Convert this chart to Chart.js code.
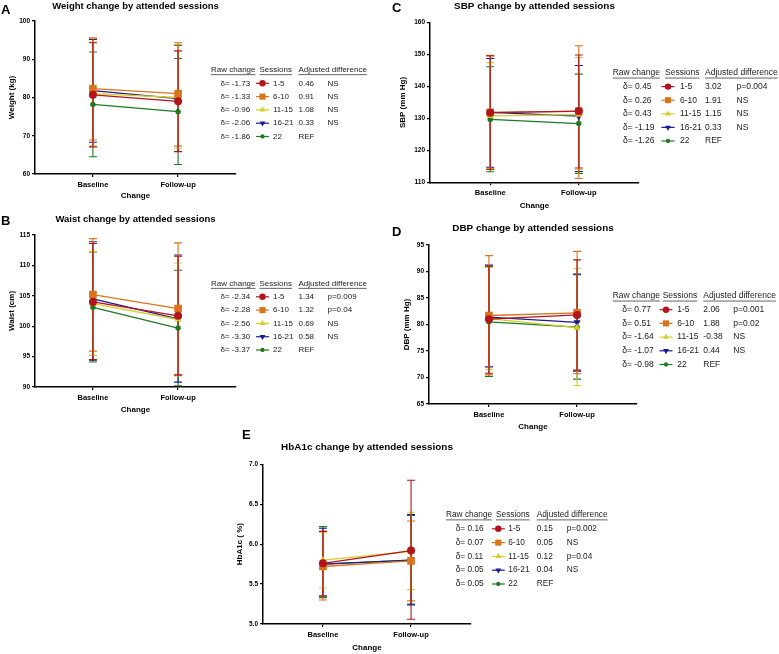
<!DOCTYPE html>
<html>
<head>
<meta charset="utf-8">
<script src="https://cdn.jsdelivr.net/npm/chart.js@4.4.1/dist/chart.umd.min.js"></script>
<style>
  body { margin: 0; background: #fff; width: 779px; height: 654px; position: relative; overflow: hidden; }
  canvas { position: absolute; }
</style>
</head>
<body>
<canvas id="panelA" width="390" height="208" style="left:0px;top:0px"></canvas>
<canvas id="panelB" width="390" height="208" style="left:0px;top:212px"></canvas>
<canvas id="panelC" width="387" height="214" style="left:392px;top:0px"></canvas>
<canvas id="panelD" width="387" height="214" style="left:392px;top:220px"></canvas>
<canvas id="panelE" width="390" height="229" style="left:228px;top:425px"></canvas>
<script>
// Shared categories
const sessions = ['1-5', '6-10', '11-15', '16-21', '22'];
const timepoints = ['Baseline', 'Follow-up'];

// A - weight (kg)
const weightBase = [80.7, 82.3, 81.0, 81.8, 78.2];
const weightFollow = [79.0, 81.0, 80.0, 79.7, 76.3];
const weightBaseLo = [67.1, 68.9, 67.3, 68.3, 64.5];
const weightBaseHi = [94.3, 95.6, 94.5, 95.2, 91.9];
const weightFollowLo = [65.8, 67.3, 66.6, 65.9, 62.5];
const weightFollowHi = [92.2, 94.3, 93.9, 93.7, 90.2];
const weightRaw = ['-1.73', '-1.33', '-0.96', '-2.06', '-1.86'];
const weightAdj = ['0.46', '0.91', '1.08', '0.33', 'REF'];
const weightP = ['NS', 'NS', 'NS', 'NS', ''];

// B - waist (cm)
const waistBase = [104.0, 105.2, 103.7, 104.5, 103.1];
const waistFollow = [101.7, 102.9, 101.1, 101.2, 99.7];
const waistBaseLo = [94.5, 95.9, 95.2, 94.4, 94.1];
const waistBaseHi = [113.6, 114.4, 112.3, 113.9, 112.2];
const waistFollowLo = [92.0, 91.9, 91.8, 90.8, 90.2];
const waistFollowHi = [111.5, 113.7, 110.4, 111.7, 109.2];
const waistRaw = ['-2.34', '-2.28', '-2.56', '-3.30', '-3.37'];
const waistAdj = ['1.34', '1.32', '0.69', '0.58', 'REF'];
const waistP = ['p=0.009', 'p=0.04', 'NS', 'NS', ''];

// C - SBP (mm Hg)
const sbpBase = [131.8, 131.9, 130.8, 131.9, 129.7];
const sbpFollow = [132.3, 132.2, 131.2, 130.7, 128.4];
const sbpBaseLo = [114.1, 114.0, 114.3, 114.7, 113.3];
const sbpBaseHi = [149.6, 149.8, 147.5, 148.8, 146.2];
const sbpFollowLo = [114.5, 111.2, 114.0, 113.4, 112.8];
const sbpFollowHi = [149.9, 152.8, 149.1, 146.6, 143.9];
const sbpRaw = ['0.45', '0.26', '0.43', '-1.19', '-1.26'];
const sbpAdj = ['3.02', '1.91', '1.15', '0.33', 'REF'];
const sbpP = ['p=0.004', 'NS', 'NS', 'NS', ''];

// D - DBP (mm Hg)
const dbpBase = [81.0, 81.7, 81.1, 81.4, 80.5];
const dbpFollow = [81.8, 82.2, 79.4, 80.4, 79.5];
const dbpBaseLo = [70.8, 70.5, 71.5, 72.0, 70.2];
const dbpBaseHi = [91.0, 93.0, 90.8, 91.2, 90.9];
const dbpFollowLo = [71.4, 70.7, 68.5, 71.2, 69.7];
const dbpFollowHi = [92.2, 93.8, 90.6, 89.5, 89.4];
const dbpRaw = ['0.77', '0.51', '-1.64', '-1.07', '-0.98'];
const dbpAdj = ['2.06', '1.88', '-0.38', '0.44', 'REF'];
const dbpP = ['p=0.001', 'p=0.02', 'NS', 'NS', ''];

// E - HbA1c (%)
const hba1cBase = [5.76, 5.72, 5.80, 5.75, 5.75];
const hba1cFollow = [5.92, 5.79, 5.91, 5.80, 5.80];
const hba1cBaseLo = [5.35, 5.30, 5.45, 5.35, 5.33];
const hba1cBaseHi = [6.16, 6.16, 6.15, 6.20, 6.22];
const hba1cFollowLo = [5.06, 5.29, 5.43, 5.24, 5.25];
const hba1cFollowHi = [6.80, 6.29, 6.40, 6.37, 6.36];
const hba1cRaw = ['0.16', '0.07', '0.11', '0.05', '0.05'];
const hba1cAdj = ['0.15', '0.05', '0.12', '0.04', 'REF'];
const hba1cP = ['p=0.002', 'NS', 'p=0.04', 'NS', ''];

// Look of each session series
const colors = ['#b3141c', '#d9731c', '#d4cd2a', '#1b1b8e', '#1e7a22'];
const markers = [
    { style: 'circle', r: 4, rot: 0 },
    { style: 'rect', r: 5.4, rot: 0 },
    { style: 'triangle', r: 4.2, rot: 0 },
    { style: 'triangle', r: 4.2, rot: 180 },
    { style: 'circle', r: 2.7, rot: 0 }
];
const FONT = '"Liberation Sans", Arial, sans-serif';

// Error bars, drawn under the lines (last series first so 1-5 ends on top)
const errorBars = {
    id: 'errorBars',
    beforeDatasetsDraw(chart) {
        const ctx = chart.ctx;
        const xs = chart.scales.x, ys = chart.scales.y;
        ctx.save();
        for (let d = chart.data.datasets.length - 1; d >= 0; d--) {
            const ds = chart.data.datasets[d];
            ctx.strokeStyle = ds.borderColor;
            ctx.lineWidth = 1.1;
            ds.data.forEach((p, i) => {
                const x = xs.getPixelForValue(p.x);
                const lo = ys.getPixelForValue(ds.errLo[i]);
                const hi = ys.getPixelForValue(ds.errHi[i]);
                ctx.beginPath();
                ctx.moveTo(x, lo); ctx.lineTo(x, hi);
                ctx.moveTo(x - 4, lo); ctx.lineTo(x + 4, lo);
                ctx.moveTo(x - 4, hi); ctx.lineTo(x + 4, hi);
                ctx.stroke();
            });
        }
        ctx.restore();
    }
};

// Panel letter, title and the text legend table
const panelText = {
    id: 'panelText',
    afterDraw(chart, args, opts) {
        const ctx = chart.ctx;
        const area = chart.chartArea;
        ctx.save();
        ctx.fillStyle = '#000';
        ctx.textBaseline = 'middle';

        ctx.font = 'bold 13px ' + FONT;
        ctx.textAlign = 'left';
        ctx.fillText(opts.letter, opts.letterX, opts.letterY);

        ctx.font = 'bold ' + opts.titleSize + 'px ' + FONT;
        ctx.textAlign = 'center';
        ctx.fillText(opts.title, (area.left + area.right) / 2, opts.titleY);

        const lg = opts.legend;
        ctx.font = lg.size + 'px ' + FONT;
        ctx.textAlign = 'left';
        ctx.fillStyle = '#222';
        const heads = [['Raw change', lg.hRaw], ['Sessions', lg.hSes], ['Adjusted difference', lg.hAdj]];
        heads.forEach(([t, x]) => {
            ctx.fillText(t, x, lg.y0);
            const w = ctx.measureText(t).width;
            ctx.fillRect(x, lg.y0 + lg.size * 0.55, w, 0.7);
        });
        sessions.forEach((s, i) => {
            const y = lg.y0 + lg.dy * (i + 1);
            ctx.fillStyle = '#222';
            ctx.fillText('\u03b4= ' + lg.raw[i], lg.xRaw, y);
            ctx.fillText(s, lg.xSes, y);
            ctx.fillText(lg.adj[i], lg.xAdj, y);
            ctx.fillText(lg.p[i], lg.xP, y);
            ctx.strokeStyle = colors[i];
            ctx.fillStyle = colors[i];
            ctx.lineWidth = 1.2;
            ctx.beginPath();
            ctx.moveTo(lg.xMark - 6.5, y); ctx.lineTo(lg.xMark + 6.5, y);
            ctx.stroke();
            Chart.helpers.drawPoint(ctx, {
                pointStyle: markers[i].style,
                radius: markers[i].r * 0.8,
                rotation: markers[i].rot,
                borderWidth: 0
            }, lg.xMark, y);
        });
        ctx.restore();
    }
};

function makePanel(id, p) {
    const canvas = document.getElementById(id);
    const W = canvas.width, H = canvas.height;
    const datasets = sessions.map((s, i) => ({
        label: s,
        data: [{ x: 0, y: p.base[i] }, { x: 1, y: p.follow[i] }],
        errLo: [p.baseLo[i], p.followLo[i]],
        errHi: [p.baseHi[i], p.followHi[i]],
        borderColor: colors[i],
        backgroundColor: colors[i],
        borderWidth: 1.3,
        pointStyle: markers[i].style,
        pointRadius: markers[i].r,
        pointRotation: markers[i].rot,
        pointBorderWidth: 0,
        pointHoverRadius: markers[i].r
    }));
    const axisColor = '#000';
    return new Chart(canvas, {
        type: 'line',
        data: { datasets },
        options: {
            responsive: false,
            animation: false,
            events: [],
            layout: { padding: { left: 0, top: p.area.top, right: W - p.area.right, bottom: 0 } },
            scales: {
                x: {
                    type: 'linear',
                    min: -0.68, max: 1.68,
                    afterBuildTicks(scale) { scale.ticks = [{ value: 0 }, { value: 1 }]; },
                    afterFit(scale) { scale.height = H - p.area.bottom; },
                    ticks: {
                        callback: v => timepoints[v],
                        color: '#000', padding: 3, maxRotation: 0,
                        font: { family: FONT, size: 7.5, weight: 'bold' }
                    },
                    grid: { drawOnChartArea: false, tickLength: 3, color: axisColor, lineWidth: 1.2 },
                    border: { color: axisColor, width: 1.5 },
                    title: {
                        display: true, text: 'Change', color: '#000',
                        font: { family: FONT, size: 8, weight: 'bold' },
                        padding: { top: 0, bottom: H - p.changeY - 4.8 }
                    }
                },
                y: {
                    min: p.yMin, max: p.yMax,
                    afterFit(scale) { scale.width = p.area.left; },
                    ticks: {
                        stepSize: p.yStep, color: '#000', padding: 2,
                        callback: v => p.yFmt ? v.toFixed(1) : v,
                        font: { family: FONT, size: 6.5, weight: 'bold' }
                    },
                    grid: { drawOnChartArea: false, tickLength: 3, color: axisColor, lineWidth: 1.2 },
                    border: { color: axisColor, width: 1.5 },
                    title: {
                        display: true, text: p.yTitle, color: '#000',
                        font: { family: FONT, size: 8, weight: 'bold' },
                        padding: { top: p.yTitleX - 4.8, bottom: 0 }
                    }
                }
            },
            plugins: {
                legend: { display: false },
                tooltip: { enabled: false },
                panelText: {
                    letter: p.letter, letterX: p.letterX, letterY: p.letterY,
                    title: p.title, titleY: p.titleY, titleSize: p.titleSize,
                    legend: p.legend
                }
            }
        },
        plugins: [errorBars, panelText]
    });
}

makePanel('panelA', {
    base: weightBase, follow: weightFollow,
    baseLo: weightBaseLo, baseHi: weightBaseHi, followLo: weightFollowLo, followHi: weightFollowHi,
    area: { left: 35, right: 236, top: 21, bottom: 174 },
    yMin: 60, yMax: 100, yStep: 10, yTitle: 'Weight (kg)', yTitleX: 12, changeY: 196,
    letter: 'A', letterX: 1, letterY: 10, title: 'Weight change by attended sessions', titleY: 6, titleSize: 9.5,
    legend: { size: 8, y0: 70, dy: 13.3, hRaw: 211, hSes: 259.5, hAdj: 298.5,
        xRaw: 220.5, xMark: 262.5, xSes: 273, xAdj: 298.5, xP: 327.5,
        raw: weightRaw, adj: weightAdj, p: weightP }
});

makePanel('panelB', {
    base: waistBase, follow: waistFollow,
    baseLo: waistBaseLo, baseHi: waistBaseHi, followLo: waistFollowLo, followHi: waistFollowHi,
    area: { left: 35, right: 236, top: 23, bottom: 175 },
    yMin: 90, yMax: 115, yStep: 5, yTitle: 'Waist (cm)', yTitleX: 12, changeY: 198,
    letter: 'B', letterX: 1, letterY: 9, title: 'Waist change by attended sessions', titleY: 7, titleSize: 9.5,
    legend: { size: 8, y0: 71.5, dy: 13.3, hRaw: 211, hSes: 259.5, hAdj: 298.5,
        xRaw: 220.5, xMark: 262.5, xSes: 273, xAdj: 298.5, xP: 327.5,
        raw: waistRaw, adj: waistAdj, p: waistP }
});

makePanel('panelC', {
    base: sbpBase, follow: sbpFollow,
    baseLo: sbpBaseLo, baseHi: sbpBaseHi, followLo: sbpFollowLo, followHi: sbpFollowHi,
    area: { left: 38, right: 247, top: 22.7, bottom: 182.3 },
    yMin: 110, yMax: 160, yStep: 10, yTitle: 'SBP (mm Hg)', yTitleX: 11, changeY: 206,
    letter: 'C', letterX: 0, letterY: 8, title: 'SBP change by attended sessions', titleY: 6.5, titleSize: 9.9,
    legend: { size: 8.5, y0: 73, dy: 13.6, hRaw: 220.7, hSes: 273, hAdj: 313,
        xRaw: 231, xMark: 276, xSes: 288, xAdj: 313, xP: 344.5,
        raw: sbpRaw, adj: sbpAdj, p: sbpP }
});

makePanel('panelD', {
    base: dbpBase, follow: dbpFollow,
    baseLo: dbpBaseLo, baseHi: dbpBaseHi, followLo: dbpFollowLo, followHi: dbpFollowHi,
    area: { left: 37, right: 245, top: 25, bottom: 184 },
    yMin: 65, yMax: 95, yStep: 5, yTitle: 'DBP (mm Hg)', yTitleX: 15, changeY: 207,
    letter: 'D', letterX: 0, letterY: 12.5, title: 'DBP change by attended sessions', titleY: 8, titleSize: 9.9,
    legend: { size: 8.5, y0: 76, dy: 13.7, hRaw: 220.7, hSes: 270.7, hAdj: 311.3,
        xRaw: 230.3, xMark: 274, xSes: 285.3, xAdj: 311.3, xP: 341.3,
        raw: dbpRaw, adj: dbpAdj, p: dbpP }
});

makePanel('panelE', {
    base: hba1cBase, follow: hba1cFollow,
    baseLo: hba1cBaseLo, baseHi: hba1cBaseHi, followLo: hba1cFollowLo, followHi: hba1cFollowHi,
    area: { left: 35, right: 243, top: 39.3, bottom: 199 },
    yMin: 5, yMax: 7, yStep: 0.5, yFmt: true, yTitle: 'HbA1c ( %)', yTitleX: 11.3, changeY: 223,
    letter: 'E', letterX: 14, letterY: 10.5, title: 'HbA1c change by attended sessions', titleY: 22.5, titleSize: 9.9,
    legend: { size: 8.3, y0: 90, dy: 13.8, hRaw: 218, hSes: 268, hAdj: 308.7,
        xRaw: 227.7, xMark: 270.3, xSes: 280.3, xAdj: 308.7, xP: 338.7,
        raw: hba1cRaw, adj: hba1cAdj, p: hba1cP }
});
</script>
</body>
</html>
